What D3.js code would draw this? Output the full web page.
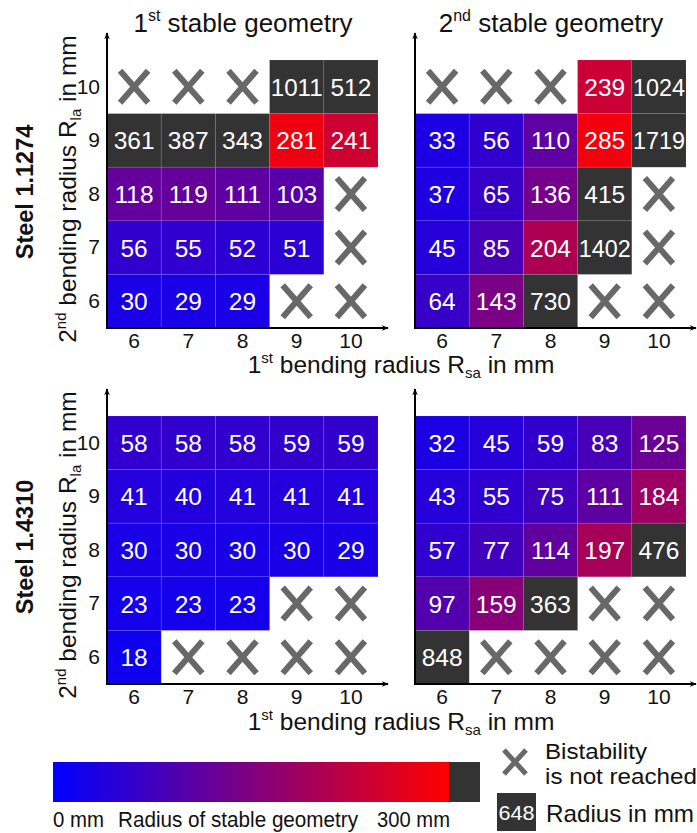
<!DOCTYPE html>
<html>
<head>
<meta charset="utf-8">
<script src="https://cdn.jsdelivr.net/npm/d3@7"></script>
<style>
  body { margin: 0; background: #fff; }
  text { font-family: "Liberation Sans", Arial, sans-serif; }
</style>
</head>
<body>
<script>
// bending radii (columns = 1st radius R_sa, rows = 2nd radius R_la)
var cols = [6, 7, 8, 9, 10];
var rows = [10, 9, 8, 7, 6];

// radius of stable geometry in mm, null = bistability not reached
var steel1274First = [
    [null, null, null, 1011, 512],
    [361, 387, 343, 281, 241],
    [118, 119, 111, 103, null],
    [56, 55, 52, 51, null],
    [30, 29, 29, null, null]
];
var steel1274Second = [
    [null, null, null, 239, 1024],
    [33, 56, 110, 285, 1719],
    [37, 65, 136, 415, null],
    [45, 85, 204, 1402, null],
    [64, 143, 730, null, null]
];
var steel4310First = [
    [58, 58, 58, 59, 59],
    [41, 40, 41, 41, 41],
    [30, 30, 30, 30, 29],
    [23, 23, 23, null, null],
    [18, null, null, null, null]
];
var steel4310Second = [
    [32, 45, 59, 83, 125],
    [43, 55, 75, 111, 184],
    [57, 77, 114, 197, 476],
    [97, 159, 363, null, null],
    [848, null, null, null, null]
];
var colorMax = 300;

var W = 697, H = 833;
var svg = d3.select("body").append("svg")
    .attr("width", W)
    .attr("height", H);

// arrow head marker
svg.append("defs").append("marker")
    .attr("id", "arrow")
    .attr("viewBox", "0 0 10 10")
    .attr("refX", 9).attr("refY", 5)
    .attr("markerWidth", 7).attr("markerHeight", 7)
    .attr("markerUnits", "userSpaceOnUse")
    .attr("orient", "auto")
    .append("path")
    .attr("d", "M0,1 L10,5 L0,9 L3,5 Z")
    .attr("fill", "#000");

var grad = svg.select("defs").append("linearGradient")
    .attr("id", "grad");
grad.append("stop").attr("offset", "0%").attr("stop-color", "rgb(0,0,255)");
grad.append("stop").attr("offset", "100%").attr("stop-color", "rgb(255,0,0)");

var color = d3.scaleLinear().domain([0, colorMax]).range(["rgb(0,0,255)", "rgb(255,0,0)"]);
var overColor = "#333333";
var crossColor = "#686868";

function cross(g, cx, cy, hw, hh, sw) {
    g.append("path")
        .attr("d", "M" + (cx - hw) + "," + (cy - hh) + "L" + (cx + hw) + "," + (cy + hh) +
            "M" + (cx - hw) + "," + (cy + hh) + "L" + (cx + hw) + "," + (cy - hh))
        .attr("stroke", crossColor)
        .attr("stroke-width", sw)
        .attr("fill", "none");
}

function panel(data, left, top, showYTicks) {
    var g = svg.append("g");
    var x = d3.scaleBand().domain(cols).range([left, left + 271]);
    var y = d3.scaleBand().domain(rows).range([top, top + 268]);

    rows.forEach(function (r, i) {
        cols.forEach(function (c, j) {
            var v = data[i][j];
            var cx = x(c) + x.bandwidth() / 2,
                cy = y(r) + y.bandwidth() / 2;
            if (v === null) {
                cross(g, cx, cy, 14, 16, 6);
                return;
            }
            g.append("rect")
                .attr("x", x(c))
                .attr("y", y(r))
                .attr("width", x.bandwidth())
                .attr("height", y.bandwidth())
                .attr("fill", v > colorMax ? overColor : color(v))
                .attr("stroke", "rgba(255,255,255,0.08)")
                .attr("stroke-width", 1);
            var t = g.append("text")
                .attr("x", cx)
                .attr("y", cy + 9)
                .attr("text-anchor", "middle")
                .attr("font-size", 24.5)
                .attr("fill", "#fff")
                .text(v);
            if (String(v).length > 3) t.attr("textLength", 52).attr("lengthAdjust", "spacingAndGlyphs");
        });
    });

    var bottom = top + 268;
    // x axis with arrow
    g.append("line")
        .attr("x1", left - 1).attr("x2", left + 281)
        .attr("y1", bottom).attr("y2", bottom)
        .attr("stroke", "#000").attr("stroke-width", 2)
        .attr("marker-end", "url(#arrow)");
    // y axis with arrow
    g.append("line")
        .attr("x1", left).attr("x2", left)
        .attr("y1", bottom + 1).attr("y2", top - 27)
        .attr("stroke", "#000").attr("stroke-width", 2)
        .attr("marker-end", "url(#arrow)");

    var xAxis = g.append("g")
        .attr("transform", "translate(0," + bottom + ")")
        .call(d3.axisBottom(x).tickSize(0).tickPadding(5));
    xAxis.select(".domain").remove();
    xAxis.selectAll("text")
        .attr("font-size", 21)
        .attr("fill", "#111")
        .style("font-family", "'Liberation Sans', Arial, sans-serif");

    if (showYTicks) {
        var yAxis = g.append("g")
            .attr("transform", "translate(" + (left - 5) + ",0)")
            .call(d3.axisLeft(y).tickSize(0).tickPadding(2));
        yAxis.select(".domain").remove();
        yAxis.selectAll("text")
            .attr("font-size", 21)
            .attr("fill", "#111")
            .style("font-family", "'Liberation Sans', Arial, sans-serif");
    }
}

panel(steel1274First, 107, 60, true);
panel(steel1274Second, 415, 60, false);
panel(steel4310First, 107, 416, true);
panel(steel4310Second, 415, 416, false);

// titles
function title(cx, num, sup) {
    var t = svg.append("text")
        .attr("x", cx).attr("y", 32)
        .attr("text-anchor", "middle")
        .attr("font-size", 26)
        .attr("fill", "#111");
    t.append("tspan").text(num);
    t.append("tspan").attr("font-size", 16).attr("dy", -11).text(sup);
    t.append("tspan").attr("dy", 11).text(" stable geometry");
}
title(243, "1", "st");
title(551, "2", "nd");

// x axis labels
function xLabel(y) {
    var t = svg.append("text")
        .attr("x", 401).attr("y", y)
        .attr("text-anchor", "middle")
        .attr("font-size", 24.5)
        .attr("fill", "#111");
    t.append("tspan").text("1");
    t.append("tspan").attr("font-size", 15).attr("dy", -10).text("st");
    t.append("tspan").attr("dy", 10).text(" bending radius R");
    t.append("tspan").attr("font-size", 15).attr("dy", 5).text("sa");
    t.append("tspan").attr("dy", -5).text(" in mm");
}
xLabel(373);
xLabel(730);

// y axis labels
function yLabel(cy) {
    var t = svg.append("text")
        .attr("transform", "translate(76," + cy + ") rotate(-90)")
        .attr("text-anchor", "middle")
        .attr("font-size", 24.5)
        .attr("fill", "#111");
    t.append("tspan").text("2");
    t.append("tspan").attr("font-size", 15).attr("dy", -10).text("nd");
    t.append("tspan").attr("dy", 10).text(" bending radius R");
    t.append("tspan").attr("font-size", 15).attr("dy", 5).text("la");
    t.append("tspan").attr("dy", -5).text(" in mm");
}
yLabel(189);
yLabel(545);

function steelLabel(cy, name) {
    svg.append("text")
        .attr("transform", "translate(33," + cy + ") rotate(-90)")
        .attr("text-anchor", "middle")
        .attr("font-size", 23.5)
        .attr("font-weight", "bold")
        .attr("fill", "#111")
        .text(name);
}
steelLabel(192, "Steel 1.1274");
steelLabel(547, "Steel 1.4310");

// colour bar legend
var bar = d3.scaleLinear().domain([0, colorMax]).range([53, 449]);
svg.append("rect")
    .attr("x", bar(0)).attr("y", 762)
    .attr("width", bar(colorMax) - bar(0)).attr("height", 40)
    .attr("fill", "url(#grad)");
svg.append("rect")
    .attr("x", bar(colorMax)).attr("y", 762)
    .attr("width", 31).attr("height", 40)
    .attr("fill", overColor);

function legendText(x, y, str, len, size) {
    svg.append("text")
        .attr("x", x).attr("y", y)
        .attr("font-size", size || 24)
        .attr("fill", "#111")
        .attr("textLength", len)
        .attr("lengthAdjust", "spacingAndGlyphs")
        .text(str);
}
legendText(bar(0), 827, "0 mm", 51, 22);
legendText(118, 827, "Radius of stable geometry", 240, 22);
legendText(377, 827, "300 mm", 73, 22);

cross(svg, 515, 762, 11, 12, 5);
legendText(545, 759, "Bistability", 102, 21.5);
legendText(545, 784, "is not reached", 152, 21.5);

svg.append("rect")
    .attr("x", 497).attr("y", 793)
    .attr("width", 39).attr("height", 38)
    .attr("fill", overColor);
svg.append("text")
    .attr("x", 516.5).attr("y", 820)
    .attr("text-anchor", "middle")
    .attr("font-size", 21)
    .attr("fill", "#fff")
    .attr("textLength", 36)
    .attr("lengthAdjust", "spacingAndGlyphs")
    .text("648");
legendText(546, 822, "Radius in mm", 148);
</script>
</body>
</html>
